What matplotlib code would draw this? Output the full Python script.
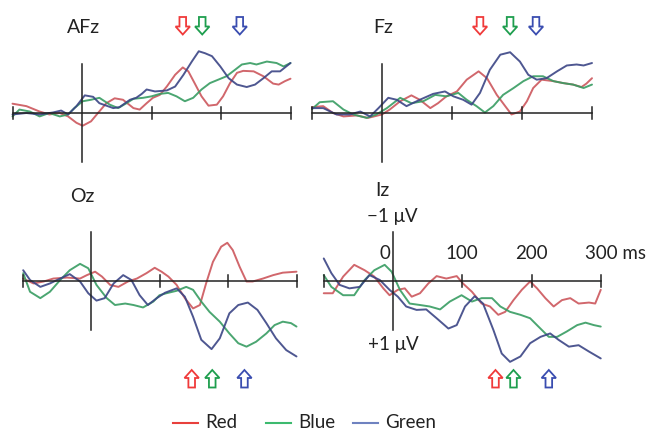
import matplotlib
matplotlib.use("Agg")
import matplotlib.pyplot as plt
from matplotlib.patches import Polygon
from matplotlib.lines import Line2D
from matplotlib.transforms import IdentityTransform

# ---------------- data (ms, microvolts; negative plotted upward) ----------------
TICKS = [-100, 100, 200, 300]
CONDITIONS = ["Red", "Blue", "Green"]

AFZ_RED_T = [-100, -80, -61, -47, -32, -20, -8, 1, 13, 23, 35, 47, 59, 74, 83, 93, 102, 112, 122, 134, 145, 153, 162, 172, 182, 194, 203, 213, 223, 232, 247, 261, 275, 283, 292, 300]
AFZ_RED_V = [-0.19, -0.14, -0.03, 0.03, 0.0, 0.07, 0.20, 0.26, 0.17, 0.0, -0.20, -0.30, -0.27, -0.10, -0.07, -0.20, -0.31, -0.37, -0.54, -0.78, -0.93, -0.85, -0.61, -0.34, -0.15, -0.17, -0.34, -0.61, -0.82, -0.86, -0.85, -0.75, -0.60, -0.58, -0.65, -0.70]
AFZ_GRN_T = [-100, -90, -75, -61, -47, -32, -20, -11, 1, 13, 25, 40, 52, 64, 74, 88, 100, 112, 124, 136, 148, 160, 172, 184, 196, 208, 220, 230, 242, 251, 266, 280, 290, 300]
AFZ_GRN_V = [0.07, -0.07, -0.03, 0.07, 0.0, 0.07, 0.03, -0.10, -0.24, -0.27, -0.31, -0.17, -0.10, -0.20, -0.29, -0.31, -0.34, -0.39, -0.41, -0.34, -0.24, -0.31, -0.48, -0.61, -0.68, -0.75, -0.88, -0.99, -1.02, -0.99, -1.05, -1.02, -0.95, -1.02]
AFZ_BLU_T = [-100, -80, -61, -42, -30, -20, -8, 4, 16, 25, 45, 54, 69, 78, 86, 93, 105, 122, 134, 146, 158, 168, 177, 187, 199, 211, 223, 237, 249, 261, 273, 285, 300]
AFZ_BLU_V = [0.03, 0.0, 0.03, -0.01, -0.05, 0.03, -0.14, -0.36, -0.33, -0.20, -0.10, -0.12, -0.27, -0.31, -0.39, -0.48, -0.44, -0.46, -0.54, -0.78, -1.05, -1.26, -1.22, -1.16, -0.95, -0.71, -0.58, -0.53, -0.58, -0.71, -0.85, -0.85, -1.02]

FZ_RED_T = [-100, -84, -70, -55, -36, -20, 0, 11, 26, 42, 54, 69, 80, 92, 107, 121, 138, 150, 164, 176, 185, 197, 207, 216, 228, 245, 259, 273, 285, 292, 300]
FZ_RED_V = [-0.12, -0.14, 0.0, 0.07, 0.05, 0.10, 0.03, -0.07, -0.24, -0.36, -0.27, -0.10, -0.20, -0.34, -0.44, -0.68, -0.85, -0.71, -0.37, -0.14, 0.03, -0.03, -0.24, -0.51, -0.68, -0.65, -0.61, -0.58, -0.53, -0.60, -0.71]
FZ_GRN_T = [-100, -89, -70, -55, -41, -22, -8, 7, 26, 42, 59, 76, 92, 109, 121, 135, 147, 159, 173, 188, 202, 216, 230, 245, 259, 273, 288, 300]
FZ_GRN_V = [-0.08, -0.22, -0.24, -0.07, 0.03, 0.10, 0.03, -0.10, -0.31, -0.20, -0.24, -0.37, -0.34, -0.41, -0.27, -0.14, -0.01, -0.14, -0.37, -0.51, -0.65, -0.75, -0.75, -0.65, -0.61, -0.58, -0.51, -0.58]
FZ_BLU_T = [-100, -84, -65, -46, -31, -17, -5, 9, 21, 35, 54, 73, 90, 102, 116, 128, 140, 154, 169, 183, 197, 209, 221, 235, 250, 264, 278, 288, 300]
FZ_BLU_V = [-0.10, -0.10, 0.03, 0.03, -0.03, 0.07, -0.10, -0.31, -0.27, -0.14, -0.27, -0.39, -0.44, -0.34, -0.27, -0.17, -0.41, -0.88, -1.19, -1.24, -1.05, -0.78, -0.68, -0.71, -0.85, -0.97, -0.99, -0.97, -1.02]

OZ_RED_T = [-99, -84, -69, -55, -35, -16, -6, 6, 16, 28, 40, 54, 67, 81, 93, 103, 113, 125, 137, 149, 159, 168, 178, 190, 199, 207, 217, 227, 236, 251, 266, 280, 300]
OZ_RED_V = [-0.05, 0.05, 0.01, -0.05, -0.07, -0.05, -0.12, -0.19, -0.09, 0.08, 0.12, 0.01, -0.05, -0.16, -0.27, -0.19, -0.09, 0.08, 0.35, 0.56, 0.49, 0.05, -0.39, -0.70, -0.78, -0.63, -0.29, 0.01, 0.01, -0.05, -0.12, -0.17, -0.19]
OZ_GRN_T = [-99, -89, -74, -60, -45, -31, -16, -4, 8, 23, 35, 50, 62, 76, 91, 100, 110, 125, 139, 149, 161, 173, 188, 202, 215, 227, 241, 256, 268, 280, 292, 300]
OZ_GRN_V = [-0.16, 0.22, 0.35, 0.22, -0.02, -0.22, -0.35, -0.26, 0.08, 0.35, 0.49, 0.46, 0.49, 0.54, 0.42, 0.29, 0.25, 0.20, 0.12, 0.18, 0.42, 0.63, 0.83, 1.07, 1.27, 1.34, 1.24, 1.07, 0.90, 0.83, 0.86, 0.93]
OZ_BLU_T = [-99, -89, -74, -60, -45, -31, -16, -4, 8, 20, 33, 47, 59, 71, 83, 96, 108, 125, 137, 149, 161, 176, 188, 202, 215, 229, 243, 256, 270, 285, 300]
OZ_BLU_V = [-0.22, -0.02, 0.12, 0.05, -0.05, -0.14, 0.01, 0.25, 0.40, 0.35, 0.05, -0.12, -0.02, 0.29, 0.49, 0.35, 0.24, 0.15, 0.32, 0.73, 1.20, 1.39, 1.17, 0.66, 0.49, 0.44, 0.59, 0.86, 1.17, 1.41, 1.54]

IZ_RED_T = [-100, -87, -72, -56, -41, -27, -14, -5, 7, 17, 27, 39, 51, 63, 77, 92, 101, 114, 128, 140, 152, 162, 174, 186, 198, 208, 220, 232, 244, 256, 268, 283, 292, 300]
IZ_RED_V = [0.25, 0.25, -0.09, -0.33, -0.22, -0.09, 0.15, 0.29, 0.18, 0.15, 0.32, 0.25, 0.05, -0.10, -0.05, -0.10, 0.05, 0.22, 0.46, 0.52, 0.69, 0.63, 0.39, 0.18, 0.01, 0.15, 0.35, 0.52, 0.39, 0.35, 0.46, 0.44, 0.46, 0.18]
IZ_GRN_T = [-100, -89, -72, -56, -41, -27, -12, -2, 10, 24, 39, 53, 68, 82, 99, 114, 128, 143, 155, 169, 184, 198, 210, 225, 237, 251, 266, 278, 290, 300]
IZ_GRN_V = [-0.12, 0.12, 0.29, 0.29, -0.02, -0.22, -0.33, -0.19, 0.18, 0.46, 0.49, 0.52, 0.58, 0.42, 0.29, 0.42, 0.35, 0.35, 0.52, 0.63, 0.69, 0.76, 0.93, 1.14, 1.14, 1.03, 0.90, 0.85, 0.90, 0.93]
IZ_BLU_T = [-100, -89, -77, -63, -48, -34, -19, -5, 7, 19, 34, 48, 63, 80, 92, 104, 118, 130, 145, 157, 169, 184, 198, 213, 227, 239, 254, 268, 283, 300]
IZ_BLU_V = [-0.46, -0.16, 0.08, 0.15, 0.12, -0.12, -0.02, 0.18, 0.32, 0.52, 0.59, 0.58, 0.76, 0.97, 0.90, 0.52, 0.31, 0.46, 1.00, 1.48, 1.65, 1.54, 1.27, 1.14, 1.07, 1.20, 1.34, 1.31, 1.44, 1.58]

# arrow latencies (ms) for Red, Blue(green), Green(blue) conditions
AFZ_ARROWS = [145, 173, 227]
FZ_ARROWS = [140, 183, 220]
OZ_ARROWS = [147, 177, 224]
IZ_ARROWS = [148, 174, 225]

# ---------------- styles ----------------
W, H = 646, 432
LINE_COLORS = ["#cc565c", "#379c62", "#3b4585"]
ARROW_COLORS = ["#f03a3a", "#1e9e4e", "#3a4db0"]
LEGEND_COLORS = ["#e8403c", "#3dba6f", "#6f82c0"]
UV_PX = 49.0
YLIM = 2.0

plt.rcParams['font.family'] = ['Lato', 'DejaVu Sans']
fig = plt.figure(figsize=(W / 100, H / 100), dpi=100)
fig.patch.set_facecolor("white")
ID = IdentityTransform()


def add_panel(zero_px, axis_py, ms_px):
    left = zero_px - 100 * ms_px
    width = 400 * ms_px
    bottom = H - axis_py - YLIM * UV_PX
    height = 2 * YLIM * UV_PX
    ax = fig.add_axes([left / W, bottom / H, width / W, height / H])
    ax.set_xlim(-100, 300)
    ax.set_ylim(YLIM, -YLIM)
    ax.axis('off')
    ax.patch.set_alpha(0)
    ax.plot([-100, 300], [0, 0], color="#222222", lw=1.1, zorder=4, clip_on=False)
    for t in TICKS:
        ax.plot([t, t], [-0.12, 0.12], color="#222222", lw=1.1, zorder=4, clip_on=False)
    ax.plot([0, 0], [-1, 1], color="#222222", lw=1.1, zorder=4, clip_on=False)
    return ax


def draw_curves(ax, series):
    for (t, v), c in zip(series, LINE_COLORS):
        ax.plot(t, v, color=c, lw=1.4, alpha=0.9, solid_joinstyle='round',
                solid_capstyle='round', zorder=2, clip_on=False)


def draw_arrows(ax, lat, py, down):
    for t, c in zip(lat, ARROW_COLORS):
        cx = ax.transData.transform((t, 0))[0]
        if down:
            top = H - py
            verts = [(cx - 3.3, top), (cx + 3.3, top), (cx + 3.3, top - 9.5), (cx + 7.2, top - 9.5),
                     (cx, top - 17.5), (cx - 7.2, top - 9.5), (cx - 3.3, top - 9.5)]
        else:
            tip = H - py
            verts = [(cx, tip), (cx + 7.2, tip - 8), (cx + 3.3, tip - 8), (cx + 3.3, tip - 17.5),
                     (cx - 3.3, tip - 17.5), (cx - 3.3, tip - 8), (cx - 7.2, tip - 8)]
        fig.add_artist(Polygon(verts, closed=True, transform=ID, facecolor="white",
                               edgecolor=c, lw=1.3, joinstyle='miter'))


def ptext(x, py, s, **kw):
    fig.text(x / W, (H - py) / H, s, **kw)


ax1 = add_panel(82, 113, 0.695)
draw_curves(ax1, [(AFZ_RED_T, AFZ_RED_V), (AFZ_GRN_T, AFZ_GRN_V), (AFZ_BLU_T, AFZ_BLU_V)])
ax2 = add_panel(382, 113, 0.70)
draw_curves(ax2, [(FZ_RED_T, FZ_RED_V), (FZ_GRN_T, FZ_GRN_V), (FZ_BLU_T, FZ_BLU_V)])
ax3 = add_panel(91, 281, 0.685)
draw_curves(ax3, [(OZ_RED_T, OZ_RED_V), (OZ_GRN_T, OZ_GRN_V), (OZ_BLU_T, OZ_BLU_V)])
ax4 = add_panel(393, 281, 0.6925)
draw_curves(ax4, [(IZ_RED_T, IZ_RED_V), (IZ_GRN_T, IZ_GRN_V), (IZ_BLU_T, IZ_BLU_V)])

draw_arrows(ax1, AFZ_ARROWS, 17, True)
draw_arrows(ax2, FZ_ARROWS, 17, True)
draw_arrows(ax3, OZ_ARROWS, 370, False)
draw_arrows(ax4, IZ_ARROWS, 370, False)

FS = 14
TC = "#222222"
ptext(67, 33, "AFz", fontsize=FS, color=TC, va='baseline')
ptext(373, 33, "Fz", fontsize=FS, color=TC, va='baseline')
ptext(70, 202, "Oz", fontsize=FS, color=TC, va='baseline')
ptext(375, 196, "Iz", fontsize=FS, color=TC, va='baseline')
ptext(367, 222, "\u22121 \u03bcV", fontsize=13.5, color=TC, va='baseline')
ptext(368, 350, "+1 \u03bcV", fontsize=13.5, color=TC, va='baseline')

# time tick labels for Iz panel
for t, lab in [(0, "0"), (100, "100"), (200, "200")]:
    x = ax4.transData.transform((t, 0))[0]
    if t == 0:
        fig.text((x - 3) / W, (H - 259) / H, lab, fontsize=13.5, color=TC, ha='right', va='baseline')
    else:
        fig.text(x / W, (H - 259) / H, lab, fontsize=13.5, color=TC, ha='center', va='baseline')
x300 = ax4.transData.transform((300, 0))[0]
fig.text((x300 - 16) / W, (H - 259) / H, "300 ms", fontsize=13.5, color=TC, ha='left', va='baseline')

# legend
LEG_X = [173, 266, 353]
for x, c, lab in zip(LEG_X, LEGEND_COLORS, CONDITIONS):
    fig.add_artist(Line2D([x, x + 25], [H - 423, H - 423], transform=ID, color=c, lw=1.5))
    ptext(x + 32, 428, lab, fontsize=13.5, color=TC, va='baseline')

fig.savefig("out.png", dpi=100, facecolor="white")
